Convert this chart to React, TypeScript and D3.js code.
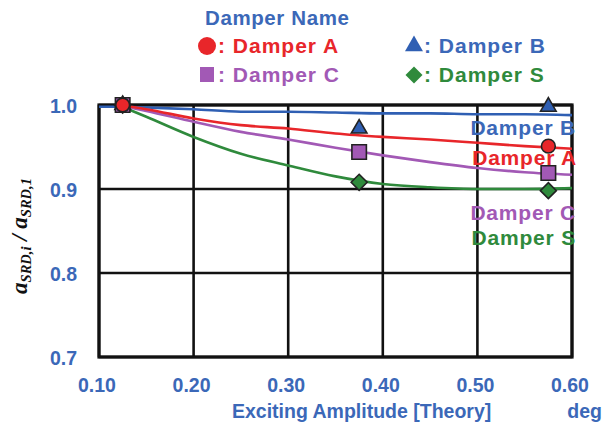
import React from "react";
import * as d3 from "d3";

// Exciting amplitude sample points for the fitted curves
const curveX = [0.10, 0.125, 0.15, 0.20, 0.25, 0.30, 0.35, 0.40, 0.45, 0.50, 0.55, 0.60];
const curveB = [0.998, 0.998, 0.997, 0.995, 0.992, 0.992, 0.991, 0.990, 0.990, 0.989, 0.989, 0.988];
const curveXA = [0.12, 0.15, 0.20, 0.25, 0.30, 0.35, 0.40, 0.45, 0.50, 0.55, 0.60];
const curveA = [1.0, 0.995, 0.984, 0.976, 0.972, 0.966, 0.962, 0.959, 0.955, 0.951, 0.948];
const curveC = [1.0, 0.993, 0.980, 0.968, 0.959, 0.949, 0.940, 0.932, 0.925, 0.920, 0.917];
const curveS = [1.0, 0.986, 0.962, 0.942, 0.928, 0.915, 0.906, 0.902, 0.900, 0.900, 0.901];

// Measured points
const markX = [0.125, 0.375, 0.575];
const markA = [1.0, null, 0.951];
const markB = [1.0, 0.972, 0.998];
const markC = [1.0, 0.944, 0.919];
const markS = [1.0, 0.908, 0.898];

const xTicks = [0.1, 0.2, 0.3, 0.4, 0.5, 0.6];
const yTicks = [0.7, 0.8, 0.9, 1.0];

const RED = "#e8262a";
const BLUE = "#2f5fb3";
const PURPLE = "#a259b5";
const GREEN = "#2f8a3c";
const LABEL_BLUE = "#3b68b8";

const FONT = "Liberation Sans, Arial, sans-serif";

const diamondPath = (r: number) => `M0,${-r}L${r},0L0,${r}L${-r},0Z`;

export default function App() {
  const W = 604, H = 427;
  const x = d3.scaleLinear().domain([0.1, 0.6]).range([99, 572]);
  const y = d3.scaleLinear().domain([0.7, 1.0]).range([357, 105]);

  const line = d3
    .line<[number, number]>()
    .x((d) => x(d[0]))
    .y((d) => y(d[1]))
    .curve(d3.curveMonotoneX);

  const zip = (xs: number[], ys: number[]) => xs.map((v, i) => [v, ys[i]] as [number, number]);

  const symbolPath = (kind: string) =>
    kind === "diamond"
      ? diamondPath(8)
      : d3.symbol().type(
          kind === "circle" ? d3.symbolCircle : kind === "triangle" ? d3.symbolTriangle : d3.symbolSquare
        ).size(kind === "triangle" ? 105 : kind === "circle" ? 150 : 210)() || "";

  const marker = (kind: string, cx: number, cy: number, fill: string, key: string) => (
    <path key={key} d={symbolPath(kind)} transform={`translate(${cx},${cy})`} fill={fill} stroke="#222" strokeWidth={1.6} />
  );

  const marks = (vals: (number | null)[], kind: string, fill: string, id: string) =>
    vals.map((v, i) => (v == null ? null : marker(kind, x(markX[i]), y(v), fill, `${id}${i}`)));

  return (
    <svg width={W} height={H} style={{ position: "absolute", left: 0, top: 0, background: "#fff" }}>
      {/* legend */}
      <g fontFamily={FONT} fontWeight="bold" fontSize={21} letterSpacing={1}>
        <text x={205} y={25} fill={LABEL_BLUE} fontSize={20.5} letterSpacing={0.6}>Damper Name</text>
        <circle cx={207} cy={46} r={9} fill={RED} />
        <text x={218} y={53} fill={RED}>: Damper A</text>
        <path d={d3.symbol().type(d3.symbolTriangle).size(140)() || ""} transform="translate(414,46)" fill={BLUE} />
        <text x={424} y={53} fill={LABEL_BLUE}>: Damper B</text>
        <rect x={200} y={67} width={14} height={15} fill={PURPLE} />
        <text x={218} y={82} fill={PURPLE}>: Damper C</text>
        <path d={diamondPath(8.5)} transform="translate(414,75)" fill={GREEN} />
        <text x={424} y={82} fill={GREEN}>: Damper S</text>
      </g>

      {/* grid */}
      <g stroke="#111" strokeWidth={2.6}>
        {xTicks.map((t) => (
          <line key={`gx${t}`} x1={x(t)} x2={x(t)} y1={y(0.7)} y2={y(1.0)} />
        ))}
        {yTicks.map((t) => (
          <line key={`gy${t}`} x1={x(0.1)} x2={x(0.6)} y1={y(t)} y2={y(t)} />
        ))}
      </g>
      <rect x={x(0.1)} y={y(1.0)} width={x(0.6) - x(0.1)} height={y(0.7) - y(1.0)} fill="none" stroke="#111" strokeWidth={3.2} />

      {/* tick labels */}
      <g fontFamily={FONT} fontWeight="bold" fontSize={19.5} fill={LABEL_BLUE}>
        {yTicks.map((t) => (
          <text key={`yl${t}`} x={77} y={y(t) + 8} textAnchor="end">{t.toFixed(1)}</text>
        ))}
        {xTicks.map((t) => (
          <text key={`xl${t}`} x={x(t) - 2} y={392} textAnchor="middle">{t.toFixed(2)}</text>
        ))}
        <text x={232} y={418}>Exciting Amplitude [Theory]</text>
        <text x={602} y={418} textAnchor="end">deg</text>
      </g>

      {/* y axis title */}
      <g transform="translate(27,236) rotate(-90)" fontFamily="Liberation Serif, Times New Roman, serif" fontWeight="bold" fontStyle="italic" fill="#111">
        <text textAnchor="middle" fontSize={23}>
          a<tspan fontSize={14.5} dy={4}>SRD,i</tspan>
          <tspan dy={-4}> / a</tspan>
          <tspan fontSize={14.5} dy={4}>SRD,1</tspan>
        </text>
      </g>

      {/* fitted curves */}
      <g fill="none" strokeWidth={2.6}>
        <path d={line(zip(curveX, curveB)) || ""} stroke={BLUE} />
        <path d={line(zip(curveXA, curveS)) || ""} stroke={GREEN} />
        <path d={line(zip(curveXA, curveC)) || ""} stroke={PURPLE} />
        <path d={line(zip(curveXA, curveA)) || ""} stroke={RED} />
      </g>

      {/* measured points */}
      {marks(markS, "diamond", GREEN, "s")}
      {marks(markB, "triangle", BLUE, "b")}
      {marks(markC, "square", PURPLE, "c")}
      {marks(markA, "circle", RED, "a")}

      {/* series labels */}
      <g fontFamily={FONT} fontWeight="bold" fontSize={21} letterSpacing={0.8} textAnchor="end">
        <text x={576} y={135} fill={LABEL_BLUE}>Damper B</text>
        <text x={577} y={165} fill={RED}>Damper A</text>
        <text x={576} y={220} fill={PURPLE}>Damper C</text>
        <text x={576} y={245} fill={GREEN}>Damper S</text>
      </g>
    </svg>
  );
}
